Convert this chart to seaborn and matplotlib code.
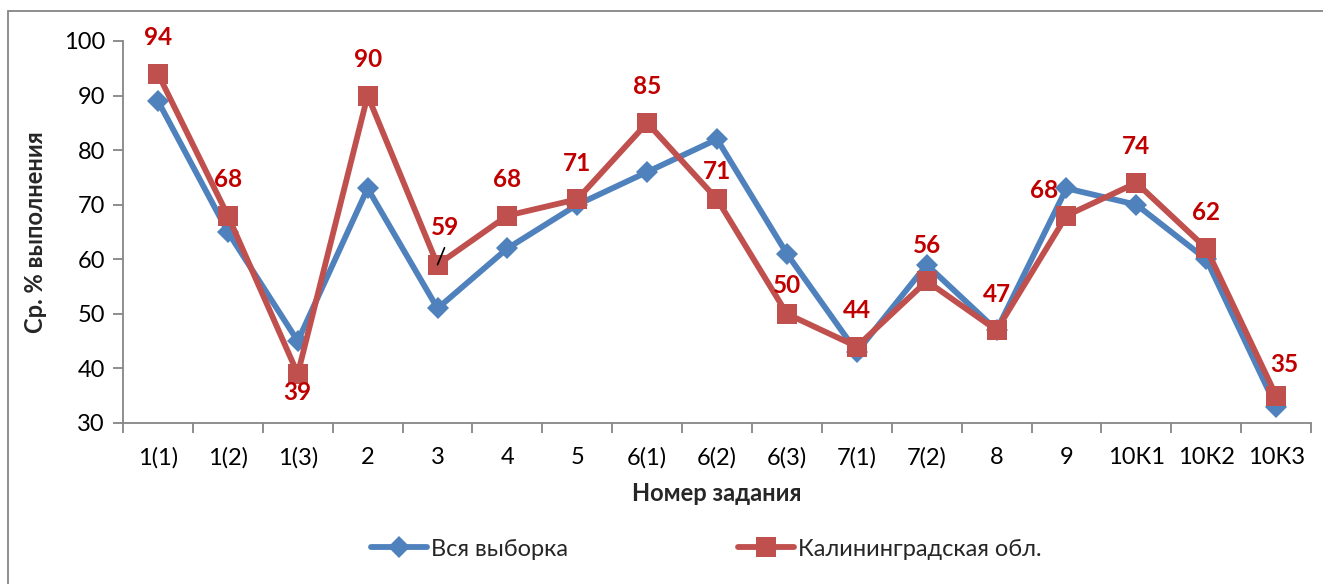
import matplotlib
matplotlib.use("Agg")
import matplotlib.pyplot as plt
import seaborn as sns
import pandas as pd
from matplotlib.patches import Rectangle
from matplotlib.ticker import FixedLocator

tasks = ["1(1)", "1(2)", "1(3)", "2", "3", "4", "5", "6(1)", "6(2)", "6(3)",
         "7(1)", "7(2)", "8", "9", "10К1", "10К2", "10К3"]
all_sample = [89, 65, 45, 73, 51, 62, 70, 76, 82, 61, 43, 59, 47, 73, 70, 60, 33]
kaliningrad = [94, 68, 39, 90, 59, 68, 71, 85, 71, 50, 44, 56, 47, 68, 74, 62, 35]
series_names = ["Вся выборка", "Калининградская обл."]
y_ticks = [30, 40, 50, 60, 70, 80, 90, 100]

BLUE = "#4F81BD"
RED = "#C0504D"
LABEL_RED = "#C00000"
GREY = "#868686"

sns.set_theme(style="white")
plt.rcParams["font.family"] = ["Lato", "DejaVu Sans"]

fig = plt.figure(figsize=(13.23, 5.84), dpi=100)
ax = fig.add_axes([0.093, 0.2757, 0.898, 0.6541])

df = pd.DataFrame({"task": tasks, "a": all_sample, "b": kaliningrad})

sns.lineplot(data=df, x="task", y="a", ax=ax, color=BLUE, lw=4.2, marker="D",
             markersize=11.5, markeredgewidth=0, label=series_names[0], sort=False)
sns.lineplot(data=df, x="task", y="b", ax=ax, color=RED, lw=4.2, marker="s",
             markersize=14.5, markeredgewidth=0, label=series_names[1], sort=False)

# data labels (offsets in pixels)
offsets = {i: (0, 36) for i in range(len(tasks))}
offsets[2] = (0, -19)
offsets[4] = (8, 37)
offsets[8] = (0, 28)
offsets[9] = (0, 28)
offsets[13] = (-22, 25)
offsets[16] = (8, 31)
for i, v in enumerate(kaliningrad):
    dx, dy = offsets[i]
    if i == 4:
        ax.annotate("", xy=(i, v), xytext=(7, 17), textcoords="offset pixels",
                    arrowprops=dict(arrowstyle="-", color="black", lw=1.2,
                                    shrinkA=0, shrinkB=0))
    ax.annotate(str(v), xy=(i, v), xytext=(dx, dy), textcoords="offset pixels",
                ha="center", va="center", color=LABEL_RED, fontsize=17.5,
                fontweight="bold")

ax.set_xlim(-0.5, len(tasks) - 0.5)
ax.set_ylim(30, 100)
ax.set_yticks(y_ticks)
ax.set_xticks(range(len(tasks)))
ax.set_xticklabels(tasks)
ax.xaxis.set_minor_locator(FixedLocator([i - 0.5 for i in range(len(tasks) + 1)]))
ax.tick_params(axis="x", which="major", length=0, labelsize=17, pad=17, colors="black")
ax.tick_params(axis="x", which="minor", length=7, width=1.3, color=GREY, direction="out", bottom=True)
ax.tick_params(axis="y", which="major", length=7, width=1.3, color=GREY, direction="out",
               labelsize=17, pad=6, left=True)
for lbl in ax.get_yticklabels():
    lbl.set_color("black")

for s in ["top", "right"]:
    ax.spines[s].set_visible(False)
for s in ["left", "bottom"]:
    ax.spines[s].set_color(GREY)
    ax.spines[s].set_linewidth(1.3)

ax.set_xlabel("Номер задания", fontsize=17, fontweight="bold", labelpad=10)
ax.set_ylabel("Ср. % выполнения", fontsize=17, fontweight="bold", labelpad=12)
ax.grid(False)

ax.legend(loc="center", bbox_to_anchor=((706 - 123) / 1188, -0.33), ncol=2, frameon=False,
          fontsize=17, columnspacing=7.2, handlelength=2.4, handletextpad=0.15)

# outer chart-area border
fig.patches.append(Rectangle((8 / 1323, -0.02), 1.2, (584 - 11) / 584 + 0.02,
                             transform=fig.transFigure, fill=False,
                             edgecolor=GREY, lw=1.3))

fig.savefig("out.png", dpi=100)
